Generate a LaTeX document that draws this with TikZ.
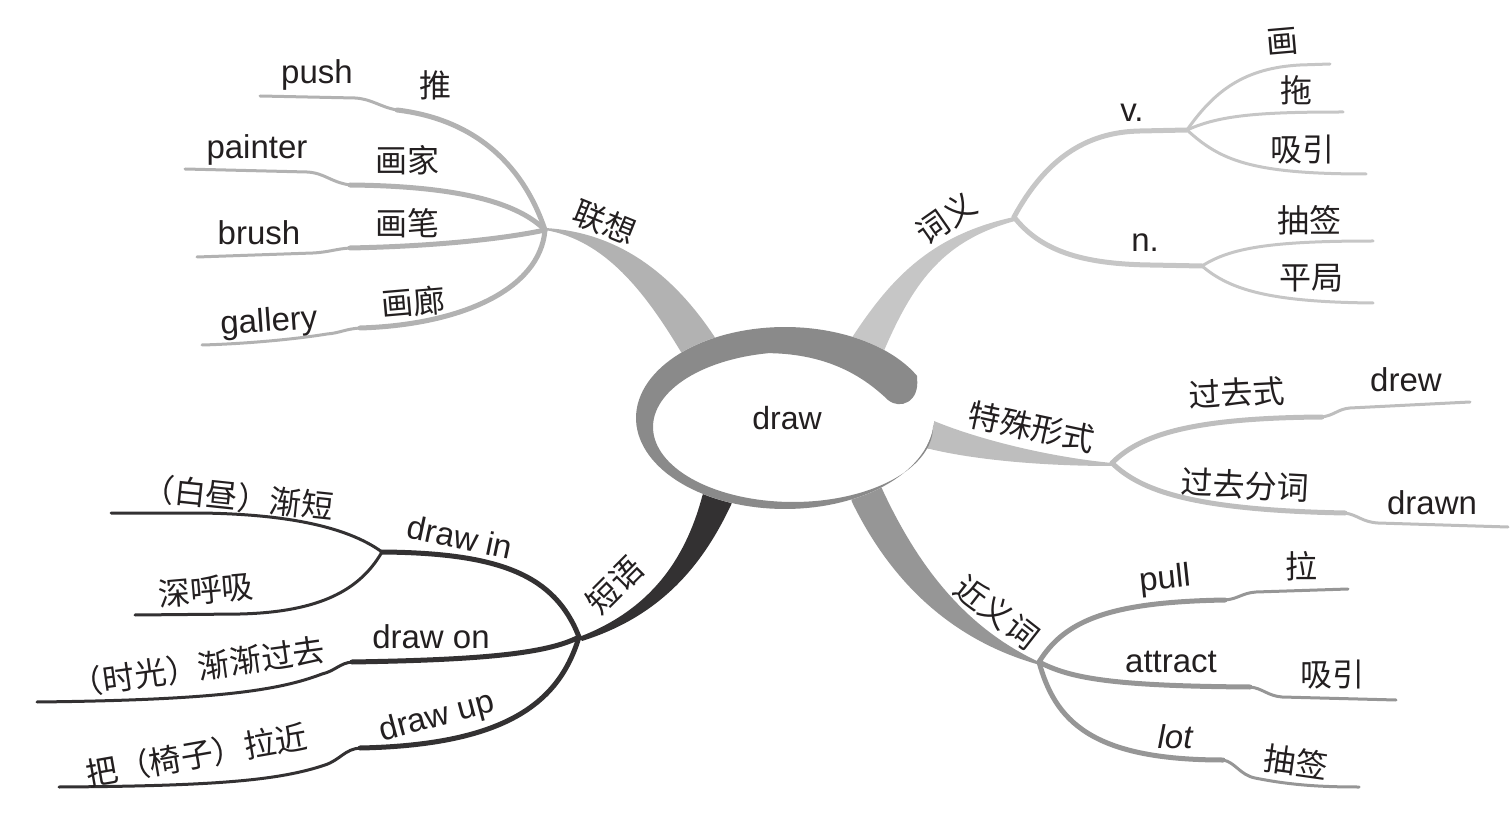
\documentclass[tikz,border=0pt]{standalone}
\usepackage{fontspec}
\setmainfont{Liberation Sans}
\newfontfamily\cjk{Noto Sans CJK SC}
\definecolor{txt}{RGB}{35,31,32}
\definecolor{ringc}{RGB}{138,138,138}
\definecolor{cL}{RGB}{178,178,178}
\definecolor{cC}{RGB}{198,198,198}
\definecolor{cT}{RGB}{190,190,190}
\definecolor{cJ}{RGB}{150,150,150}
\definecolor{cD}{RGB}{51,49,50}
\tikzset{
  en/.style={font=\fontsize{16.5}{16.5}\selectfont, text=txt, inner sep=0pt},
  zh/.style={font=\cjk\fontsize{16}{16}\selectfont, text=txt, inner sep=0pt},
  br/.style={line width=2.5pt, line cap=round, line join=round},
  lf/.style={line width=1.5pt, line cap=round, line join=round},
}
\begin{document}
\begin{tikzpicture}[x=0.5pt,y=-0.5pt]
\useasboundingbox (0,0) rectangle (1511,818);
% hubs
\coordinate (hL) at (545,230);
\coordinate (hC) at (1014,217);
\coordinate (hV) at (1187,130);
\coordinate (hN) at (1202,266);
\coordinate (hT) at (1112,463);
\coordinate (hJ) at (1039,662);
\coordinate (hD) at (579,637);
\coordinate (hI) at (382,552);
% leaf ends
\coordinate (ePush) at (260,96);
\coordinate (ePainter) at (185,169);
\coordinate (eBrush) at (197,257);
\coordinate (eGallery) at (202,345);
\coordinate (eHua) at (1330,64);
\coordinate (eTuo) at (1343,112);
\coordinate (eXy) at (1366,174);
\coordinate (eCq) at (1373,241);
\coordinate (ePj) at (1373,303);
\coordinate (eDrew) at (1470,402);
\coordinate (eDrawn) at (1508,527);
\coordinate (ePull) at (1348,589);
\coordinate (eAttract) at (1396,700);
\coordinate (eLot) at (1359,787);
\coordinate (eJd) at (111,513);
\coordinate (eShx) at (135,615);
\coordinate (eOn) at (37,702);
\coordinate (eUp) at (59,787);

% ---------- tapered main branches ----------
\fill[cL] (545,228) .. controls (615,232) and (670,270) .. (714,336) -- (724,352) -- (690,366) -- (681,352) .. controls (645,292) and (605,240) .. (hL) -- cycle;
\fill[cC] (853,336) .. controls (890,280) and (930,235) .. (hC) -- (1015,221) .. controls (945,240) and (915,280) .. (886,346) -- (880,360) -- (846,350) -- cycle;
\fill[cT] (934,421) .. controls (980,440) and (1050,457) .. (hT) -- (1112,466) .. controls (1050,466) and (980,461) .. (930,449) -- (915,447) -- (918,419) -- cycle;
\fill[cJ] (852,502) .. controls (890,580) and (950,640) .. (1040,665) -- (hJ) .. controls (975,632) and (925,580) .. (884,493) -- (878,480) -- (848,488) -- cycle;
\fill[cD] (702,497) .. controls (685,560) and (650,610) .. (hD) -- (582,641) .. controls (665,615) and (705,560) .. (731,505) -- (736,490) -- (706,484) -- cycle;

% ---------- 联想 ----------
\begin{scope}[draw=cL]
\draw[br] (hL) .. controls (525,170) and (480,120) .. (397,110) coordinate (sPush);
\draw[lf] (sPush) .. controls (380,107) and (372,99) .. (355,98) -- (ePush);
\draw[br] (hL) .. controls (515,200) and (450,186) .. (350,185) coordinate (sPainter);
\draw[lf] (sPainter) .. controls (330,182) and (325,173) .. (307,172) -- (ePainter);
\draw[br] (hL) .. controls (513,237) and (447,246) .. (350,248) coordinate (sBrush);
\draw[lf] (sBrush) .. controls (335,249) and (330,252) .. (313,253) -- (eBrush);
\draw[br] (hL) .. controls (540,290) and (460,325) .. (360,328) coordinate (sGallery);
\draw[lf] (sGallery) .. controls (345,329) and (340,333) .. (327,334) .. controls (290,340) and (240,344) .. (eGallery);
\end{scope}

% ---------- 词义 ----------
\begin{scope}[draw=cC]
\draw[br] (hC) .. controls (1045,160) and (1085,132) .. (1140,131) -- (hV);
\draw[lf] (hV) .. controls (1215,90) and (1245,68) .. (1300,65) -- (eHua);
\draw[lf] (hV) .. controls (1220,115) and (1260,112) .. (eTuo);
\draw[lf] (hV) .. controls (1220,160) and (1250,174) .. (eXy);
\draw[br] (hC) .. controls (1040,250) and (1080,264) .. (1150,265) -- (hN);
\draw[lf] (hN) .. controls (1230,248) and (1270,241) .. (eCq);
\draw[lf] (hN) .. controls (1230,290) and (1270,302) .. (ePj);
\end{scope}

% ---------- 特殊形式 ----------
\begin{scope}[draw=cT]
\draw[br] (hT) .. controls (1140,435) and (1190,418) .. (1322,417) coordinate (sDrew);
\draw[lf] (sDrew) .. controls (1335,415) and (1338,409) .. (1350,408) -- (eDrew);
\draw[br] (hT) .. controls (1140,490) and (1190,510) .. (1345,513) coordinate (sDrawn);
\draw[lf] (sDrawn) .. controls (1358,515) and (1362,522) .. (1378,523) -- (eDrawn);
\end{scope}

% ---------- 近义词 ----------
\begin{scope}[draw=cJ]
\draw[br] (hJ) .. controls (1065,620) and (1110,602) .. (1225,600) coordinate (sPull);
\draw[lf] (sPull) .. controls (1238,599) and (1242,593) .. (1256,592) -- (ePull);
\draw[br] (hJ) .. controls (1070,678) and (1110,686) .. (1250,687) coordinate (sAttract);
\draw[lf] (sAttract) .. controls (1262,688) and (1268,696) .. (1282,697) -- (eAttract);
\draw[br] (hJ) .. controls (1055,720) and (1090,760) .. (1223,760) coordinate (sLot);
\draw[lf] (sLot) .. controls (1235,762) and (1240,775) .. (1255,778) .. controls (1290,785) and (1320,787) .. (eLot);
\end{scope}

% ---------- 短语 ----------
\begin{scope}[draw=cD]
\draw[br] (hD) .. controls (555,575) and (500,553) .. (hI);
\draw[lf] (hI) .. controls (345,525) and (280,514) .. (200,513) -- (eJd);
\draw[lf] (hI) .. controls (360,590) and (320,612) .. (240,614) -- (eShx);
\draw[br] (hD) .. controls (545,655) and (470,660) .. (352,662) coordinate (sOn);
\draw[lf] (sOn) .. controls (340,663) and (335,671) .. (322,674) .. controls (280,690) and (220,700) .. (eOn);
\draw[br] (hD) .. controls (560,700) and (510,745) .. (360,748) coordinate (sUp);
\draw[lf] (sUp) .. controls (345,749) and (340,760) .. (325,765) .. controls (280,780) and (220,786) .. (eUp);
\end{scope}

% ---------- central ring ----------
\fill[white] plot[domain=0:360, samples=120] ({785+149*cos(\x)},{418+91*sin(\x)}) -- cycle;
\fill[ringc] plot[domain=-27.6:-355.6, samples=120] ({785+149*cos(\x)},{418+91*sin(\x)})
  -- plot[domain=0:260, samples=100] ({793+140*cos(\x)},{427+75*sin(\x)})
  .. controls (830,354) and (865,378) .. (888,400)
  .. controls (900,410) and (920,402) .. (917,378) -- cycle;
\node[en, font=\fontsize{16}{16}\selectfont] (center) at (787,418) {draw};

% ---------- labels ----------
\node[zh, rotate=-22] (tLX) at (605,222) {联想};
\node[en] (tPush) at (317,75) {push};
\node[zh] (tTui) at (435,85) {推};
\node[en] (tPainter) at (257,150) {painter};
\node[zh] (tHj) at (407,160) {画家};
\node[en] (tBrush) at (259,233) {brush};
\node[zh] (tHb) at (407,223) {画笔};
\node[en, rotate=4] (tGallery) at (269,323) {gallery};
\node[zh, rotate=5] (tHl) at (413,302) {画廊};

\node[zh, rotate=35] (tCY) at (946,218) {词义};
\node[en] (tV) at (1132,113) {v.};
\node[en] (tN) at (1145,243) {n.};
\node[zh, rotate=5] (tHua) at (1282,42) {画};
\node[zh] (tTuo) at (1296,90) {拖};
\node[zh] (tXy) at (1302,150) {吸引};
\node[zh] (tCq) at (1309,220) {抽签};
\node[zh] (tPj) at (1311,278) {平局};

\node[zh, rotate=-12] (tTS) at (1032,427) {特殊形式};
\node[zh, rotate=3] (tGqs) at (1237,393) {过去式};
\node[en] (tDrew) at (1406,380) {drew};
\node[zh, rotate=-3] (tGqfc) at (1245,485) {过去分词};
\node[en] (tDrawn) at (1432,503) {drawn};

\node[zh, rotate=-38] (tJY) at (997,612) {近义词};
\node[en, rotate=6] (tPull) at (1165,580) {pull};
\node[zh] (tLa) at (1301,566) {拉};
\node[en] (tAttract) at (1171,662) {attract};
\node[zh] (tXy2) at (1332,675) {吸引};
\node[en, font=\fontsize{16.5}{16.5}\selectfont\itshape] (tLot) at (1175,737) {lot};
\node[zh, rotate=-8] (tCq2) at (1296,762) {抽签};

\node[zh, rotate=45] (tDY) at (615,585) {短语};
\node[en, rotate=-12] (tIn) at (460,537) {draw in};
\node[zh, rotate=-6] (tJd) at (238,497) {（白昼）渐短};
\node[zh, rotate=5] (tShx) at (206,590) {深呼吸};
\node[en] (tOn) at (431,637) {draw on};
\node[zh, rotate=8] (tSg) at (198,667) {（时光）渐渐过去};
\node[en, rotate=15] (tUp) at (437,718) {draw up};
\node[zh, rotate=10] (tYz) at (197,755) {把（椅子）拉近};
\end{tikzpicture}
\end{document}
